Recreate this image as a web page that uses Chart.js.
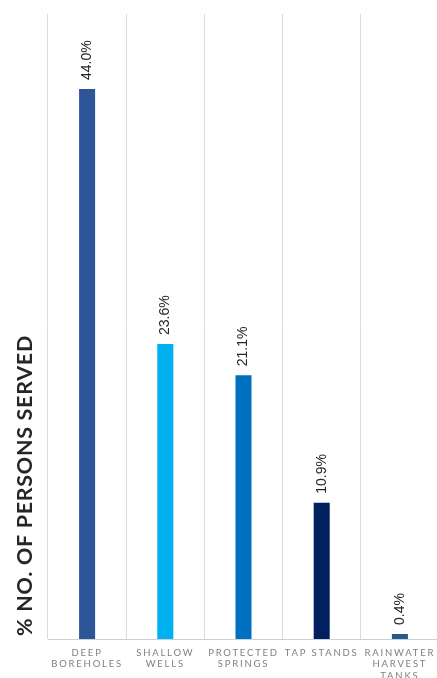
<!DOCTYPE html>
<html>
<head>
<meta charset="utf-8">
<script src="https://cdn.jsdelivr.net/npm/chart.js@4"></script>
<style>
    html, body { margin: 0; padding: 0; background: #fff; overflow: hidden; }
    #wrap { width: 439px; height: 678px; position: relative; }
</style>
</head>
<body>
<div id="wrap"><canvas id="waterChart"></canvas></div>
<script>
// ============================================================
// DATA
// ============================================================
const sources = [
    ['DEEP', 'BOREHOLES'],
    ['SHALLOW', 'WELLS'],
    ['PROTECTED', 'SPRINGS'],
    ['TAP STANDS'],
    ['RAINWATER', 'HARVEST', 'TANKS']
];
const personsServed = [44.0, 23.6, 21.1, 10.9, 0.4];
const barColors = ['#2E5597', '#00B0F0', '#0070C0', '#002060', '#245A8C'];
const axisTitle = '% NO. OF PERSONS SERVED';

// ============================================================
// PLUGINS - letter spacing, value labels, axis title
// ============================================================
const spacingPlugin = {
    id: 'spacing',
    beforeDraw(chart) { chart.ctx.letterSpacing = '1.8px'; },
    beforeDatasetsDraw(chart) { chart.ctx.letterSpacing = '0px'; }
};

const valueLabels = {
    id: 'valueLabels',
    afterDatasetsDraw(chart) {
        const ctx = chart.ctx;
        const meta = chart.getDatasetMeta(0);
        ctx.save();
        ctx.font = '14px "Liberation Sans", Arial, sans-serif';
        ctx.fillStyle = '#262626';
        ctx.textAlign = 'left';
        ctx.textBaseline = 'middle';
        meta.data.forEach((bar, i) => {
            ctx.save();
            ctx.translate(bar.x, bar.y - 9);
            ctx.rotate(-Math.PI / 2);
            ctx.fillText(personsServed[i].toFixed(1) + '%', 0, 0);
            ctx.restore();
        });
        ctx.restore();
    }
};

const sideTitle = {
    id: 'sideTitle',
    afterDraw(chart) {
        const ctx = chart.ctx;
        ctx.save();
        ctx.letterSpacing = '0.7px';
        ctx.font = 'bold 21.5px Lato, "Open Sans", sans-serif';
        ctx.fillStyle = '#262626';
        ctx.textAlign = 'left';
        ctx.textBaseline = 'middle';
        ctx.translate(25, 636);
        ctx.rotate(-Math.PI / 2);
        ctx.fillText(axisTitle, 0, 0);
        ctx.restore();
    }
};

// ============================================================
// CHART
// ============================================================
new Chart(document.getElementById('waterChart').getContext('2d'), {
    type: 'bar',
    data: {
        labels: sources,
        datasets: [{
            data: personsServed,
            backgroundColor: barColors,
            barPercentage: 0.205,
            categoryPercentage: 1
        }]
    },
    options: {
        responsive: true,
        maintainAspectRatio: false,
        animation: false,
        layout: { padding: { left: 48, top: 14, right: 0, bottom: 0 } },
        plugins: {
            legend: { display: false },
            tooltip: { enabled: false }
        },
        scales: {
            x: {
                grid: { offset: true, color: '#dcdcdc', drawTicks: false },
                border: { color: '#d0d0d0' },
                ticks: {
                    color: '#7f7f7f',
                    font: { size: 9.5, family: 'Lato, sans-serif', lineHeight: 1.2 },
                    padding: 8,
                    maxRotation: 0,
                    autoSkip: false
                },
                afterFit(scale) { scale.height = 39; }
            },
            y: {
                display: false,
                min: 0,
                max: 50
            }
        }
    },
    plugins: [spacingPlugin, valueLabels, sideTitle]
});
</script>
</body>
</html>
